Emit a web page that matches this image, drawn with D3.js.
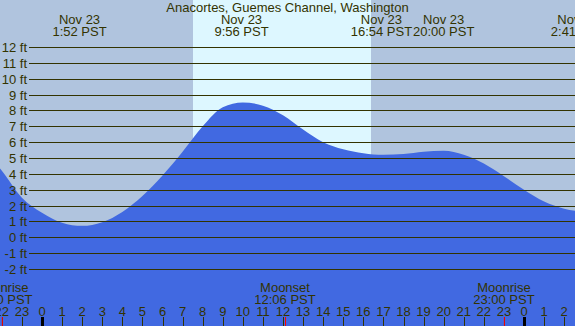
<!DOCTYPE html>
<html>
<head>
<meta charset="utf-8">
<script src="https://cdn.jsdelivr.net/npm/d3@7"></script>
<style>
  html, body { margin: 0; padding: 0; background: #b0c4de; }
  svg { display: block; }
  text { font-family: "Liberation Sans", Arial, sans-serif; font-size: 13px; fill: #333300; }
</style>
</head>
<body>
<svg id="chart"></svg>
<script>
//
// Data
//

const title = 'Anacortes, Guemes Channel, Washington';

// hours relative to Nov 23 00:00 PST, tide height in feet
const tideHours = [-3, -2, -1, 0, 1, 2, 3, 4, 5, 6, 7, 8, 9, 10, 11, 12, 13, 14,
  15, 16, 17, 18, 19, 20, 21, 22, 23, 24, 25, 26, 27];
const tideFt = [5.6, 4.2, 2.5, 1.55, 0.92, 0.72, 0.95, 1.6, 2.6, 3.9, 5.4, 7.0,
  8.2, 8.5, 8.3, 7.7, 6.8, 6.0, 5.55, 5.3, 5.2, 5.25, 5.4, 5.45, 5.2, 4.65,
  3.85, 3.0, 2.25, 1.8, 1.6];

// high / low tide labels along the top
const extremeDays = ['Nov 23', 'Nov 23', 'Nov 23', 'Nov 23', 'Nov 24'];
const extremeTimes = ['1:52', '9:56', '16:54', '20:00', '2:41'];
const extremeDayOffset = [0, 0, 0, 0, 1];

// moon events along the bottom
const moonNames = ['Moonrise', 'Moonset', 'Moonrise'];
const moonTimes = ['22:00', '12:06', '23:00'];
const moonDayOffset = [-1, 0, 0];

// daylight
const sunrise = '7:31';
const sunset = '16:23';

// axis ticks
const feetTicks = [-2, -1, 0, 1, 2, 3, 4, 5, 6, 7, 8, 9, 10, 11, 12];
const hourTicks = d3.range(-2, 27);

//
// Set-up
//

const width = 575;
const height = 326;

const toHours = (t, dayOffset = 0) => {
  const [h, m] = t.split(':').map(Number);
  return dayOffset * 24 + h + m / 60;
};

const svg = d3.select('#chart')
  .attr('width', width)
  .attr('height', height);

const xScale = d3.scaleLinear()
  .domain([0, 24])
  .range([42, 524]);

const yScale = d3.scaleLinear()
  .domain([-2, 12])
  .range([269, 47]);

// night background + daylight band
svg.append('rect')
  .attr('width', width)
  .attr('height', height)
  .style('fill', '#b0c4de');

const dayX0 = Math.round(xScale(toHours(sunrise)));
const dayX1 = Math.round(xScale(toHours(sunset)));

svg.append('rect')
  .attr('x', dayX0)
  .attr('y', 0)
  .attr('width', dayX1 - dayX0)
  .attr('height', height)
  .style('fill', '#ddf7ff');

// tide area
const tideData = tideHours.map((h, i) => ({ h, ft: tideFt[i] }));

const area = d3.area()
  .x(d => xScale(d.h))
  .y0(height)
  .y1(d => yScale(d.ft))
  .curve(d3.curveMonotoneX);

svg.append('path')
  .datum(tideData)
  .attr('d', area)
  .style('fill', '#4169e1');

//
// Y grid + labels
//

const grid = svg.append('g').attr('class', 'grid');

grid.selectAll('line')
  .data(feetTicks)
  .enter().append('line')
    .attr('x1', 29)
    .attr('x2', width)
    .attr('y1', d => Math.round(yScale(d)) + 0.5)
    .attr('y2', d => Math.round(yScale(d)) + 0.5)
    .style('stroke', '#333300')
    .style('stroke-width', 1);

grid.selectAll('text')
  .data(feetTicks)
  .enter().append('text')
    .attr('x', 27)
    .attr('y', d => Math.round(yScale(d)) + 5)
    .attr('text-anchor', 'end')
    .text(d => `${d} ft`);

//
// Header: title and tide extremes
//

svg.append('text')
  .attr('x', width / 2)
  .attr('y', 12)
  .attr('text-anchor', 'middle')
  .text(title);

const extremes = svg.append('g').selectAll('g')
  .data(extremeTimes)
  .enter().append('g')
    .attr('transform', (d, i) => `translate(${xScale(toHours(d, extremeDayOffset[i]))},0)`);

extremes.append('text')
  .attr('y', 24)
  .attr('text-anchor', 'middle')
  .text((d, i) => extremeDays[i]);

extremes.append('text')
  .attr('y', 36)
  .attr('text-anchor', 'middle')
  .text(d => `${d} PST`);

//
// Bottom: hour axis and moon events
//

const axis = svg.append('g').attr('class', 'hours');

axis.selectAll('line')
  .data(hourTicks)
  .enter().append('line')
    .attr('x1', d => Math.round(xScale(d)) + 0.5)
    .attr('x2', d => Math.round(xScale(d)) + 0.5)
    .attr('y1', 317)
    .attr('y2', height)
    .style('stroke', d => (d % 24 === 0 ? '#000' : '#333300'))
    .style('stroke-width', d => (d % 24 === 0 ? 3 : 1));

axis.selectAll('text')
  .data(hourTicks)
  .enter().append('text')
    .attr('x', d => xScale(d))
    .attr('y', 316)
    .attr('text-anchor', 'middle')
    .text(d => ((d % 24) + 24) % 24);

const moon = svg.append('g').selectAll('g')
  .data(moonTimes)
  .enter().append('g')
    .attr('transform', (d, i) => `translate(${xScale(toHours(d, moonDayOffset[i]))},0)`);

moon.append('line')
  .attr('x1', 0.5)
  .attr('x2', 0.5)
  .attr('y1', 317)
  .attr('y2', height)
  .style('stroke', '#ff0000')
  .style('stroke-width', 1);

moon.append('text')
  .attr('y', 292)
  .attr('text-anchor', 'middle')
  .text((d, i) => moonNames[i]);

moon.append('text')
  .attr('y', 304)
  .attr('text-anchor', 'middle')
  .text(d => `${d} PST`);
</script>
</body>
</html>
